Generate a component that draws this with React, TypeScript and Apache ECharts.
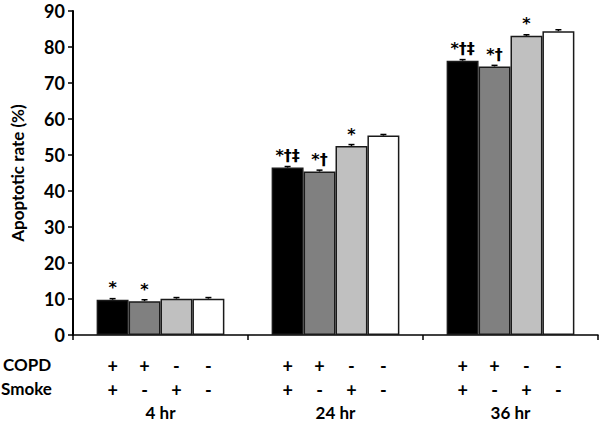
import React, { useEffect, useRef } from "react";
import * as echarts from "echarts";

const categories = ["4 hr", "24 hr", "36 hr"];
const groupNames = ["COPD+ Smoke+", "COPD+ Smoke-", "COPD- Smoke+", "COPD- Smoke-"];
const copdSigns = ["+", "+", "-", "-"];
const smokeSigns = ["+", "-", "+", "-"];
const colors = ["#000000", "#808080", "#c0c0c0", "#ffffff"];

const copdSmoke = [9.8, 46.5, 76.2];
const copdAir = [9.4, 45.4, 74.6];
const normalSmoke = [10.1, 52.5, 83.1];
const normalAir = [10.1, 55.4, 84.4];
const seriesValues = [copdSmoke, copdAir, normalSmoke, normalAir];

const errCopdSmoke = [0.3, 0.3, 0.3];
const errCopdAir = [0.4, 0.4, 0.3];
const errNormalSmoke = [0.3, 0.4, 0.3];
const errNormalAir = [0.3, 0.3, 0.4];
const seriesErrors = [errCopdSmoke, errCopdAir, errNormalSmoke, errNormalAir];

const annCopdSmoke = ["*", "*†‡", "*†‡"];
const annCopdAir = ["*", "*†", "*†"];
const annNormalSmoke = ["", "*", "*"];
const annNormalAir = ["", "", ""];
const seriesAnnotations = [annCopdSmoke, annCopdAir, annNormalSmoke, annNormalAir];

const yTicks = { min: 0, max: 90, interval: 10 };
const CAT_GAP = 0.27;
const FONT = "Lato, 'Open Sans', 'Noto Sans', sans-serif";
const SYM_FONT = "'DejaVu Sans', sans-serif";

function barCenterX(api: any, cat: number, bi: number) {
  const base = api.coord([cat, 0]);
  const band = api.size([1, 0])[0];
  const group = band * (1 - CAT_GAP);
  const bw = group / 4;
  return base[0] - group / 2 + (bi + 0.5) * bw;
}

export default function App() {
  const ref = useRef<HTMLDivElement>(null);
  useEffect(() => {
    if (!ref.current) return;
    const chart = echarts.init(ref.current, null, { renderer: "svg" });

    const barSeries = seriesValues.map((vals, si) => ({
      name: groupNames[si],
      type: "bar",
      data: vals,
      barGap: "0%",
      barCategoryGap: CAT_GAP * 100 + "%",
      itemStyle: { color: colors[si], borderColor: "#1a1a1a", borderWidth: 1.5 },
      label: {
        show: true,
        position: "top",
        distance: 4,
        color: "#000",
        fontSize: 16,
        fontWeight: "bold",
        fontFamily: SYM_FONT,
        formatter: (p: any) => seriesAnnotations[si][p.dataIndex],
      },
      z: 2,
    }));

    const errData: number[][] = [];
    seriesValues.forEach((vals, si) => {
      vals.forEach((v, ci) => errData.push([ci, si, v, seriesErrors[si][ci]]));
    });

    const signData: number[][] = [];
    categories.forEach((_, ci) => {
      for (let si = 0; si < 4; si++) signData.push([ci, si, 0]);
    });

    const option: any = {
      animation: false,
      grid: { left: 73, right: 2, top: 11, bottom: 86, containLabel: false },
      xAxis: {
        type: "category",
        data: categories,
        axisLine: { lineStyle: { color: "#000", width: 1.5 } },
        axisTick: { show: true, length: 5, alignWithLabel: false, lineStyle: { color: "#000", width: 1.5 } },
        axisLabel: { margin: 71, color: "#000", fontWeight: "bold", fontSize: 17, lineHeight: 12, fontFamily: FONT },
      },
      yAxis: {
        type: "value",
        min: yTicks.min,
        max: yTicks.max,
        interval: yTicks.interval,
        name: "Apoptotic rate (%)",
        nameLocation: "middle",
        nameGap: 47,
        nameTextStyle: { color: "#000", fontWeight: "bold", fontSize: 17, fontFamily: FONT },
        axisLine: { show: true, lineStyle: { color: "#000", width: 2 } },
        axisTick: { show: true, length: 5, lineStyle: { color: "#000", width: 1.5 } },
        axisLabel: { color: "#000", fontWeight: "bold", fontSize: 18, lineHeight: 12, fontFamily: FONT, margin: 8 },
        splitLine: { show: false },
      },
      series: [
        ...barSeries,
        {
          type: "custom",
          name: "errors",
          data: errData,
          encode: { x: 0, y: 2 },
          z: 5,
          renderItem: (params: any, api: any) => {
            const cat = api.value(0);
            const bi = api.value(1);
            const v = api.value(2);
            const e = api.value(3);
            const x = barCenterX(api, cat, bi);
            const top = api.coord([cat, v + e])[1];
            const mid = api.coord([cat, v])[1];
            const style = { stroke: "#000", lineWidth: 1.5 };
            return {
              type: "group",
              children: [
                { type: "line", shape: { x1: x, y1: mid, x2: x, y2: top }, style },
                { type: "line", shape: { x1: x - 3, y1: top, x2: x + 3, y2: top }, style },
              ],
            };
          },
        },
        {
          type: "custom",
          name: "signs",
          data: signData,
          encode: { x: 0, y: 2 },
          clip: false,
          silent: true,
          renderItem: (params: any, api: any) => {
            const cat = api.value(0);
            const bi = api.value(1);
            const x = barCenterX(api, cat, bi);
            const y0 = api.coord([cat, 0])[1];
            const ts = { fill: "#000", fontSize: 18, fontWeight: "bold", fontFamily: FONT, align: "center", verticalAlign: "middle" };
            return {
              type: "group",
              children: [
                { type: "text", x, y: y0 + 31, style: { ...ts, text: copdSigns[bi] } },
                { type: "text", x, y: y0 + 55, style: { ...ts, text: smokeSigns[bi] } },
              ],
            };
          },
        },
      ],
      graphic: [
        { type: "text", left: 3, top: 356, style: { text: "COPD", fill: "#000", fontSize: 17, fontWeight: "bold", fontFamily: FONT } },
        { type: "text", left: 1, top: 380, style: { text: "Smoke", fill: "#000", fontSize: 17, fontWeight: "bold", fontFamily: FONT } },
      ],
    };
    chart.setOption(option);
    return () => chart.dispose();
  }, []);
  return <div ref={ref} style={{ width: 600, height: 421, position: "absolute", left: 0, top: 0, background: "#fff" }} />;
}
